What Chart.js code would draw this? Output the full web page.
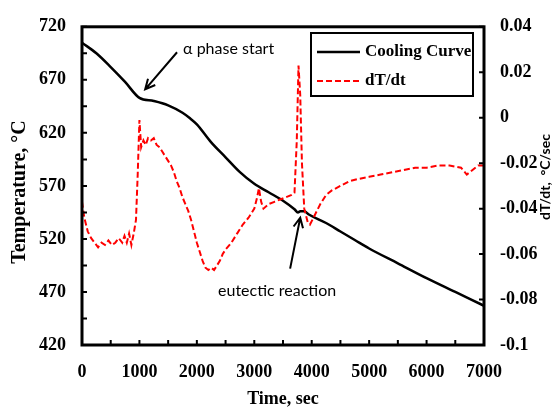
<!DOCTYPE html>
<html>
<head>
<meta charset="utf-8">
<script src="https://cdn.jsdelivr.net/npm/chart.js@4.4.1/dist/chart.umd.min.js"></script>
<style>
    html, body { margin: 0; padding: 0; background: #fff; }
</style>
</head>
<body>
<canvas id="chart" width="558" height="408"></canvas>
<script>

// ============================
// Data
// ============================

const coolTime = [0, 250, 500, 750, 1000, 1250, 1500, 1750, 1875, 2000, 2250, 2500, 2750, 3000, 3250, 3500, 3700, 3760, 3800, 3870, 3950, 4250, 4500, 4750, 5000, 5500, 6000, 6500, 7000];
const coolTemp = [705, 695, 682, 668, 653, 650, 646, 639, 634, 628, 611, 597, 583, 572, 564, 556, 548, 545, 546, 546, 543, 535, 527, 519, 511, 497, 483, 470, 457];

const rateTime = [0, 40, 100, 160, 220, 280, 340, 400, 460, 520, 580, 640, 700, 740, 780, 820, 860, 900, 940, 970, 1000, 1030, 1070, 1110, 1150, 1200, 1250, 1300, 1350, 1400, 1450, 1500, 1550, 1600, 1650, 1700, 1750, 1800, 1850, 1900, 1950, 2000, 2050, 2100, 2150, 2200, 2250, 2300, 2350, 2400, 2450, 2500, 2600, 2700, 2800, 2900, 3000, 3050, 3080, 3120, 3160, 3250, 3350, 3450, 3550, 3650, 3700, 3740, 3770, 3800, 3830, 3870, 3930, 3970, 4050, 4150, 4250, 4350, 4500, 4650, 4800, 5000, 5200, 5400, 5600, 5800, 6000, 6200, 6400, 6600, 6700, 6800, 6900, 7000];
const rateValue = [-0.037, -0.044, -0.050, -0.053, -0.055, -0.057, -0.055, -0.056, -0.054, -0.056, -0.055, -0.053, -0.055, -0.052, -0.055, -0.051, -0.056, -0.051, -0.045, -0.025, -0.001, -0.013, -0.010, -0.012, -0.009, -0.010, -0.009, -0.012, -0.013, -0.015, -0.017, -0.019, -0.021, -0.024, -0.028, -0.031, -0.035, -0.038, -0.041, -0.045, -0.050, -0.055, -0.059, -0.063, -0.066, -0.067, -0.066, -0.067, -0.065, -0.063, -0.060, -0.058, -0.055, -0.051, -0.047, -0.044, -0.040, -0.035, -0.031, -0.037, -0.040, -0.038, -0.037, -0.036, -0.035, -0.034, -0.033, -0.010, 0.023, 0.010, -0.020, -0.040, -0.046, -0.047, -0.043, -0.038, -0.034, -0.032, -0.030, -0.028, -0.027, -0.026, -0.025, -0.024, -0.023, -0.022, -0.022, -0.021, -0.021, -0.022, -0.025, -0.023, -0.021, -0.021];

const seriesNames = ["Cooling Curve", "dT/dt"];

// ============================
// Styling
// ============================

const SERIF = "'Liberation Serif', serif";
const SANS = "Lato, 'Liberation Sans', sans-serif";

function toPoints(xs, ys) {
    return xs.map((x, i) => ({ x: x, y: ys[i] }));
}

// Frame, inward ticks, axis titles, legend box and arrows
const decorPlugin = {

    id: "decor",

    afterDraw(chart) {

        const ctx = chart.ctx;
        const a = chart.chartArea;
        const sx = chart.scales.x;
        const sy = chart.scales.y;
        const sy2 = chart.scales.y2;

        ctx.save();
        ctx.strokeStyle = "#000";
        ctx.lineWidth = 2;
        ctx.setLineDash([]);

        // inward ticks
        ctx.beginPath();
        for (let v = sx.min; v <= sx.max; v += 500) {
            const px = sx.getPixelForValue(v);
            ctx.moveTo(px, a.bottom);
            ctx.lineTo(px, a.bottom - 5);
        }
        for (let v = sy.min; v <= sy.max; v += 25) {
            const py = sy.getPixelForValue(v);
            ctx.moveTo(a.left, py);
            ctx.lineTo(a.left + 5, py);
        }
        for (let v = sy2.min; v <= sy2.max + 1e-9; v += 0.02) {
            const py = sy2.getPixelForValue(v);
            ctx.moveTo(a.right, py);
            ctx.lineTo(a.right - 5, py);
        }
        ctx.stroke();

        // frame
        ctx.lineWidth = 3;
        ctx.strokeRect(a.left, a.top, a.right - a.left, a.bottom - a.top);

        // axis titles
        ctx.fillStyle = "#000";
        ctx.textAlign = "center";
        ctx.textBaseline = "middle";

        ctx.font = "bold 18px " + SERIF;
        ctx.fillText("Time, sec", (a.left + a.right) / 2, 399);

        ctx.save();
        ctx.translate(20, 192);
        ctx.rotate(-Math.PI / 2);
        ctx.font = "bold 20px " + SERIF;
        ctx.fillText("Temperature, °C", 0, 0);
        ctx.restore();

        ctx.save();
        ctx.translate(545, 177);
        ctx.rotate(-Math.PI / 2);
        ctx.font = "bold 14px " + SANS;
        ctx.fillText("dT/dt,  °C/sec", 0, 0);
        ctx.restore();

        // legend
        ctx.lineWidth = 2;
        ctx.strokeRect(311, 33, 162, 63);

        ctx.beginPath();
        ctx.lineWidth = 2.5;
        ctx.moveTo(317, 52);
        ctx.lineTo(360, 52);
        ctx.stroke();

        ctx.beginPath();
        ctx.strokeStyle = "#ff0000";
        ctx.lineWidth = 2;
        ctx.setLineDash([6, 3]);
        ctx.moveTo(317, 81);
        ctx.lineTo(360, 81);
        ctx.stroke();
        ctx.setLineDash([]);

        ctx.textAlign = "left";
        ctx.font = "bold 17px " + SERIF;
        ctx.fillText(seriesNames[0], 365, 52);
        ctx.fillText(seriesNames[1], 365, 81);

        // annotations
        ctx.strokeStyle = "#000";
        ctx.lineWidth = 2;
        ctx.font = "16px " + SANS;

        arrow(ctx,
            sx.getPixelForValue(1655), sy.getPixelForValue(696),
            sx.getPixelForValue(1100), sy.getPixelForValue(661));
        ctx.textAlign = "left";
        ctx.fillText("α phase start", sx.getPixelForValue(1760), sy.getPixelForValue(699));

        arrow(ctx,
            sx.getPixelForValue(3624), sy.getPixelForValue(492),
            sx.getPixelForValue(3800), sy.getPixelForValue(540));
        ctx.textAlign = "center";
        ctx.fillText("eutectic reaction", sx.getPixelForValue(3397), sy.getPixelForValue(471));

        ctx.restore();

    }

};

function arrow(ctx, x1, y1, x2, y2) {

    const ang = Math.atan2(y2 - y1, x2 - x1);
    const len = 11;

    ctx.beginPath();
    ctx.moveTo(x1, y1);
    ctx.lineTo(x2, y2);
    ctx.moveTo(x2 - len * Math.cos(ang - 0.45), y2 - len * Math.sin(ang - 0.45));
    ctx.lineTo(x2, y2);
    ctx.lineTo(x2 - len * Math.cos(ang + 0.45), y2 - len * Math.sin(ang + 0.45));
    ctx.stroke();

}

const tickFont = { family: SERIF, size: 18, weight: "bold" };

new Chart(document.getElementById("chart"), {

    type: "line",

    data: {

        datasets: [{

            label: seriesNames[0],
            data: toPoints(coolTime, coolTemp),
            yAxisID: "y",
            borderColor: "#000",
            borderWidth: 2.5,
            pointRadius: 0,
            cubicInterpolationMode: "monotone",
            order: 2

        }, {

            label: seriesNames[1],
            data: toPoints(rateTime, rateValue),
            yAxisID: "y2",
            borderColor: "#ff0000",
            borderWidth: 2,
            borderDash: [6, 3],
            pointRadius: 0,
            tension: 0,
            order: 1

        }]

    },

    options: {

        responsive: false,
        animation: false,
        layout: { padding: { top: 22, left: 0, right: 0, bottom: 0 } },

        plugins: {
            legend: { display: false },
            tooltip: { enabled: false }
        },

        scales: {

            x: {
                type: "linear",
                min: 0,
                max: 7000,
                grid: { display: false, drawTicks: false },
                border: { display: false },
                ticks: {
                    stepSize: 1000,
                    padding: 17,
                    color: "#000",
                    font: tickFont,
                    maxRotation: 0,
                    callback: (v) => String(v)
                },
                afterFit(scale) { scale.height = 63; }
            },

            y: {
                position: "left",
                min: 420,
                max: 720,
                grid: { display: false, drawTicks: false },
                border: { display: false },
                ticks: {
                    stepSize: 50,
                    padding: 16,
                    color: "#000",
                    font: tickFont
                },
                afterFit(scale) { scale.width = 82; }
            },

            y2: {
                position: "right",
                min: -0.1,
                max: 0.04,
                grid: { display: false, drawTicks: false },
                border: { display: false },
                ticks: {
                    stepSize: 0.02,
                    padding: 16,
                    color: "#000",
                    font: tickFont,
                    callback: (v) => String(Math.round(v * 100) / 100)
                },
                afterFit(scale) { scale.width = 74; }
            }

        }

    },

    plugins: [decorPlugin]

});

</script>
</body>
</html>
